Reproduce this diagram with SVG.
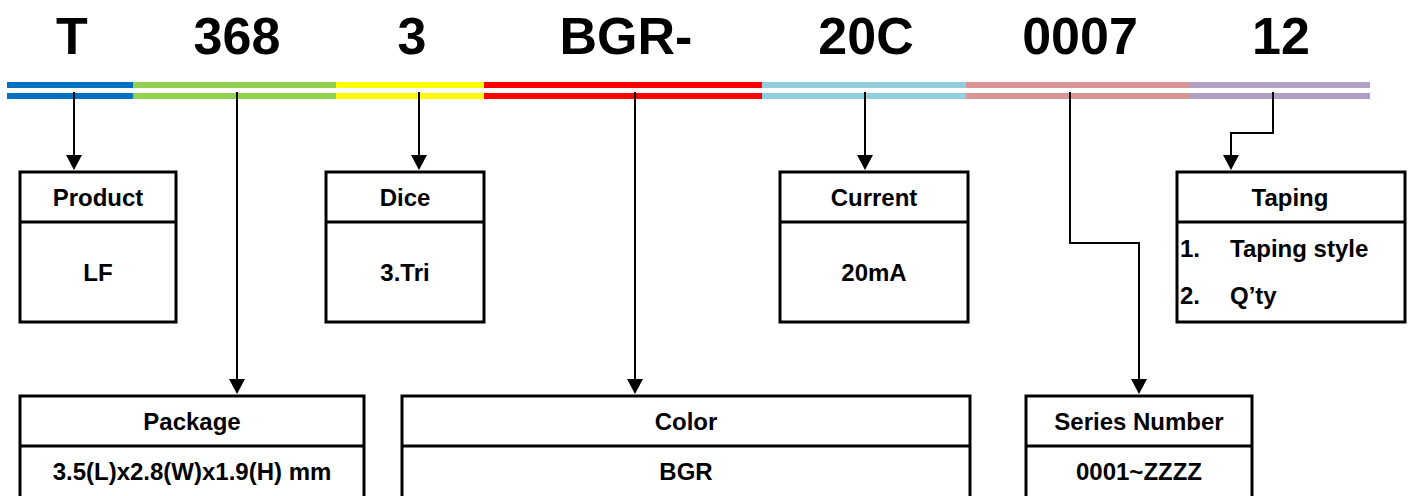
<svg xmlns="http://www.w3.org/2000/svg" width="1410" height="496" viewBox="0 0 1410 496">
<style>
.big{font-family:"Liberation Sans",Arial,sans-serif;font-weight:bold;font-size:52px;fill:#000;text-anchor:middle}
.t{font-family:"Liberation Sans",Arial,sans-serif;font-weight:bold;font-size:24px;fill:#000;text-anchor:middle}
.tl{font-family:"Liberation Sans",Arial,sans-serif;font-weight:bold;font-size:24px;fill:#000}
.box{fill:#fff;stroke:#000;stroke-width:3}
.div{stroke:#000;stroke-width:3}
.con{fill:none;stroke:#000;stroke-width:2}
</style>
<defs>
<marker id="ah" markerUnits="userSpaceOnUse" viewBox="0 0 15 16" refX="11" refY="8" markerWidth="15" markerHeight="16" orient="auto">
<path d="M0,0 L15,8 L0,16 z" fill="#000"/>
</marker>
</defs>
<rect width="1410" height="496" fill="#fff"/>
<g id="code">
<text class="big" x="72" y="54">T</text>
<text class="big" x="237" y="54">368</text>
<text class="big" x="412" y="54">3</text>
<text class="big" x="626" y="54">BGR-</text>
<text class="big" x="866" y="54">20C</text>
<text class="big" x="1080" y="54">0007</text>
<text class="big" x="1281" y="54">12</text>
</g>
<g id="bars">
<rect x="7" y="82" width="126" height="6" fill="#0070C0"/><rect x="7" y="93" width="126" height="6" fill="#0070C0"/>
<rect x="133" y="82" width="203" height="6" fill="#92D050"/><rect x="133" y="93" width="203" height="6" fill="#92D050"/>
<rect x="336" y="82" width="148" height="6" fill="#FFFF00"/><rect x="336" y="93" width="148" height="6" fill="#FFFF00"/>
<rect x="484" y="82" width="278" height="6" fill="#FF0000"/><rect x="484" y="93" width="278" height="6" fill="#FF0000"/>
<rect x="762" y="82" width="204" height="6" fill="#92CDDC"/><rect x="762" y="93" width="204" height="6" fill="#92CDDC"/>
<rect x="966" y="82" width="224" height="6" fill="#D99694"/><rect x="966" y="93" width="224" height="6" fill="#D99694"/>
<rect x="1190" y="82" width="180" height="6" fill="#B2A1C7"/><rect x="1190" y="93" width="180" height="6" fill="#B2A1C7"/>
</g>
<g id="connectors">
<path class="con" d="M74,92 V166" marker-end="url(#ah)"/>
<path class="con" d="M237,92 V390" marker-end="url(#ah)"/>
<path class="con" d="M419,92 V166" marker-end="url(#ah)"/>
<path class="con" d="M635,92 V390" marker-end="url(#ah)"/>
<path class="con" d="M865,92 V166" marker-end="url(#ah)"/>
<path class="con" d="M1070,92 V243 H1139 V390" marker-end="url(#ah)"/>
<path class="con" d="M1273,92 V133 H1231 V166" marker-end="url(#ah)"/>
</g>
<g id="product">
<rect class="box" x="20" y="172" width="156" height="150"/>
<line class="div" x1="20" y1="222" x2="176" y2="222"/>
<text class="t" x="98" y="206">Product</text>
<text class="t" x="98" y="281">LF</text>
</g>
<g id="dice">
<rect class="box" x="326" y="172" width="158" height="150"/>
<line class="div" x1="326" y1="222" x2="484" y2="222"/>
<text class="t" x="405" y="206">Dice</text>
<text class="t" x="405" y="281">3.Tri</text>
</g>
<g id="current">
<rect class="box" x="780" y="172" width="188" height="150"/>
<line class="div" x1="780" y1="222" x2="968" y2="222"/>
<text class="t" x="874" y="206">Current</text>
<text class="t" x="874" y="281">20mA</text>
</g>
<g id="taping">
<rect class="box" x="1177" y="172" width="228" height="150"/>
<line class="div" x1="1177" y1="222" x2="1405" y2="222"/>
<text class="t" x="1290" y="206">Taping</text>
<text class="tl" x="1180" y="257">1.</text>
<text class="tl" x="1230" y="257">Taping style</text>
<text class="tl" x="1180" y="304">2.</text>
<text class="tl" x="1230" y="304">Q’ty</text>
</g>
<g id="package">
<rect class="box" x="20" y="396" width="344" height="120"/>
<line class="div" x1="20" y1="446" x2="364" y2="446"/>
<text class="t" x="192" y="430">Package</text>
<text class="t" x="192" y="480">3.5(L)x2.8(W)x1.9(H) mm</text>
</g>
<g id="color">
<rect class="box" x="402" y="396" width="568" height="120"/>
<line class="div" x1="402" y1="446" x2="970" y2="446"/>
<text class="t" x="686" y="430">Color</text>
<text class="t" x="686" y="480">BGR</text>
</g>
<g id="series">
<rect class="box" x="1026" y="396" width="226" height="120"/>
<line class="div" x1="1026" y1="446" x2="1252" y2="446"/>
<text class="t" x="1139" y="430">Series Number</text>
<text class="t" x="1139" y="480">0001~ZZZZ</text>
</g>
</svg>
